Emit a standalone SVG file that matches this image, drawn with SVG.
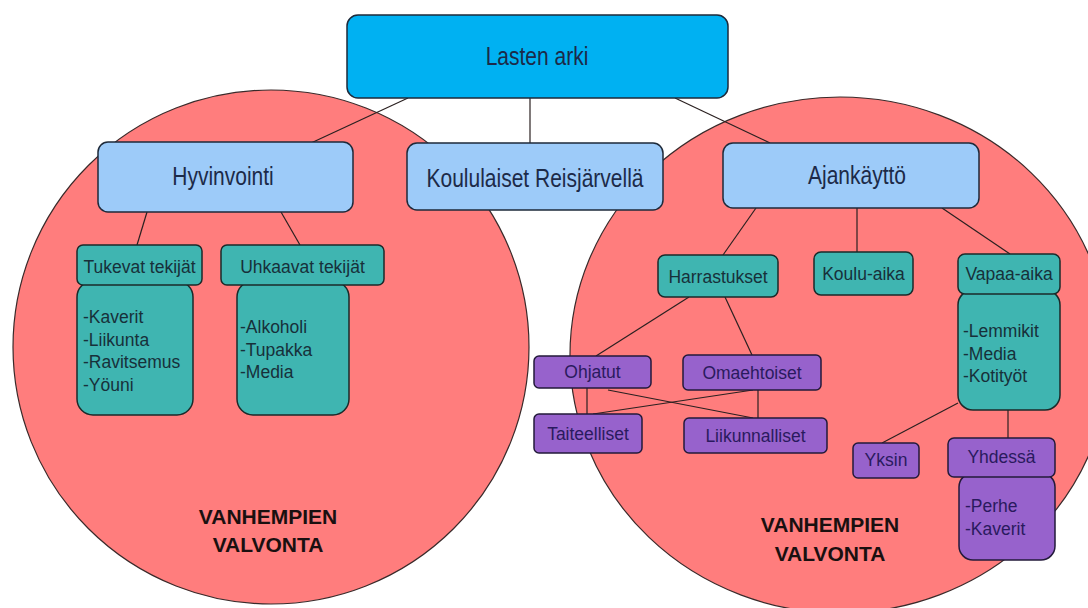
<svg xmlns="http://www.w3.org/2000/svg" width="1088" height="608" viewBox="0 0 1088 608">
<style>
text{font-family:"Liberation Sans",Arial,sans-serif;}
.zone{fill:#FF7D7D;stroke:#3a2a2a;stroke-width:1.2;}
.root{fill:#00B1F2;stroke:#1e2a3a;stroke-width:1.5;}
.main{fill:#9DCBF9;stroke:#1e2a3a;stroke-width:1.5;}
.teal{fill:#3FB5B1;stroke:#1b2a2a;stroke-width:1.5;}
.purp{fill:#9762CC;stroke:#231a3a;stroke-width:1.5;}
.big{font-size:21px;fill:#1c2a48;text-anchor:middle;transform-box:fill-box;transform-origin:center;transform:scaleY(1.2);}
.mid{font-size:17.5px;fill:#17303a;text-anchor:middle;}
.midp{font-size:17.5px;fill:#2a1a5e;text-anchor:middle;}
.lst{font-size:17.5px;fill:#17303a;}
.lstp{font-size:17.5px;fill:#2a1a5e;}
.warn{font-size:21px;font-weight:bold;fill:#1a1010;text-anchor:middle;transform-box:fill-box;transform-origin:center;transform:scaleY(0.92);}
.conn line{stroke:#2a2020;stroke-width:1.2;}
</style>
<rect width="1088" height="608" fill="#ffffff"/>
<g id="zones">
<ellipse class="zone" cx="271" cy="347" rx="258" ry="257"/>
<ellipse class="zone" cx="840" cy="355" rx="270" ry="258"/>
</g>
<g class="conn" id="connectors">
<line x1="408" y1="98" x2="311" y2="143"/>
<line x1="530" y1="98" x2="530" y2="143"/>
<line x1="675" y1="98" x2="770" y2="143"/>
<line x1="147" y1="212" x2="137" y2="245"/>
<line x1="281" y1="212" x2="300" y2="245"/>
<line x1="756" y1="208" x2="723" y2="255"/>
<line x1="857" y1="208" x2="857" y2="252"/>
<line x1="942" y1="208" x2="1010" y2="254"/>
<line x1="689" y1="297" x2="596" y2="356"/>
<line x1="725" y1="297" x2="752" y2="355"/>
<line x1="587" y1="388" x2="587" y2="414"/>
<line x1="608" y1="390" x2="753" y2="418"/>
<line x1="753" y1="390" x2="593" y2="414"/>
<line x1="758" y1="390" x2="758" y2="418"/>
<line x1="958" y1="403" x2="882" y2="443"/>
<line x1="1008" y1="409" x2="1008" y2="438"/>
</g>
<g id="lasten-arki">
<rect class="root" x="347" y="15" width="381" height="83" rx="11"/>
<text class="big" x="537" y="63.5">Lasten arki</text>
</g>
<g id="hyvinvointi">
<rect class="main" x="98" y="142" width="255" height="70" rx="10"/>
<text class="big" x="223" y="183.5">Hyvinvointi</text>
</g>
<g id="koululaiset">
<rect class="main" x="407" y="143" width="256" height="67" rx="10"/>
<text class="big" x="535" y="185.5">Koululaiset Reisjärvellä</text>
</g>
<g id="ajankaytto">
<rect class="main" x="723" y="143" width="256" height="65" rx="10"/>
<text class="big" x="857" y="182.5">Ajankäyttö</text>
</g>
<g id="tukevat-lista">
<rect class="teal" x="77" y="281" width="116" height="134" rx="16"/>
<text class="lst" x="83" y="323">-Kaverit</text>
<text class="lst" x="83" y="345.5">-Liikunta</text>
<text class="lst" x="83" y="368">-Ravitsemus</text>
<text class="lst" x="83" y="390.5">-Yöuni</text>
</g>
<g id="tukevat">
<rect class="teal" x="77" y="245" width="125" height="40" rx="6"/>
<text class="mid" x="139.5" y="273">Tukevat tekijät</text>
</g>
<g id="uhkaavat-lista">
<rect class="teal" x="237" y="281" width="112" height="134" rx="16"/>
<text class="lst" x="240" y="333">-Alkoholi</text>
<text class="lst" x="240" y="355.5">-Tupakka</text>
<text class="lst" x="240" y="378">-Media</text>
</g>
<g id="uhkaavat">
<rect class="teal" x="221" y="245" width="163" height="40" rx="6"/>
<text class="mid" x="302.5" y="273">Uhkaavat tekijät</text>
</g>
<g id="harrastukset">
<rect class="teal" x="658" y="255" width="120" height="42" rx="7"/>
<text class="mid" x="718" y="283">Harrastukset</text>
</g>
<g id="koulu-aika">
<rect class="teal" x="814" y="252" width="99" height="43" rx="7"/>
<text class="mid" x="863.5" y="280">Koulu-aika</text>
</g>
<g id="vapaa-lista">
<rect class="teal" x="958" y="290" width="102" height="120" rx="15"/>
<text class="lst" x="963" y="337">-Lemmikit</text>
<text class="lst" x="963" y="359.5">-Media</text>
<text class="lst" x="963" y="382">-Kotityöt</text>
</g>
<g id="vapaa-aika">
<rect class="teal" x="958" y="254" width="102" height="40" rx="7"/>
<text class="mid" x="1009" y="280">Vapaa-aika</text>
</g>
<g id="ohjatut">
<rect class="purp" x="534" y="356" width="117" height="32" rx="5"/>
<text class="midp" x="592.5" y="378">Ohjatut</text>
</g>
<g id="omaehtoiset">
<rect class="purp" x="683" y="355" width="138" height="35" rx="5"/>
<text class="midp" x="752" y="379">Omaehtoiset</text>
</g>
<g id="taiteelliset">
<rect class="purp" x="534" y="414" width="108" height="39" rx="5"/>
<text class="midp" x="588" y="440">Taiteelliset</text>
</g>
<g id="liikunnalliset">
<rect class="purp" x="684" y="418" width="143" height="35" rx="5"/>
<text class="midp" x="755.5" y="442">Liikunnalliset</text>
</g>
<g id="yksin">
<rect class="purp" x="853" y="443" width="66" height="35" rx="5"/>
<text class="midp" x="886" y="466">Yksin</text>
</g>
<g id="yhdessa-lista">
<rect class="purp" x="959" y="473" width="96" height="87" rx="14"/>
<text class="lstp" x="965" y="512">-Perhe</text>
<text class="lstp" x="965" y="535">-Kaverit</text>
</g>
<g id="yhdessa">
<rect class="purp" x="948" y="438" width="107" height="39" rx="6"/>
<text class="midp" x="1001.5" y="463">Yhdessä</text>
</g>
<g id="valvonta-vasen">
<text class="warn" x="268" y="525">VANHEMPIEN</text>
<text class="warn" x="268" y="553">VALVONTA</text>
</g>
<g id="valvonta-oikea">
<text class="warn" x="830" y="533">VANHEMPIEN</text>
<text class="warn" x="830" y="562">VALVONTA</text>
</g>
</svg>
